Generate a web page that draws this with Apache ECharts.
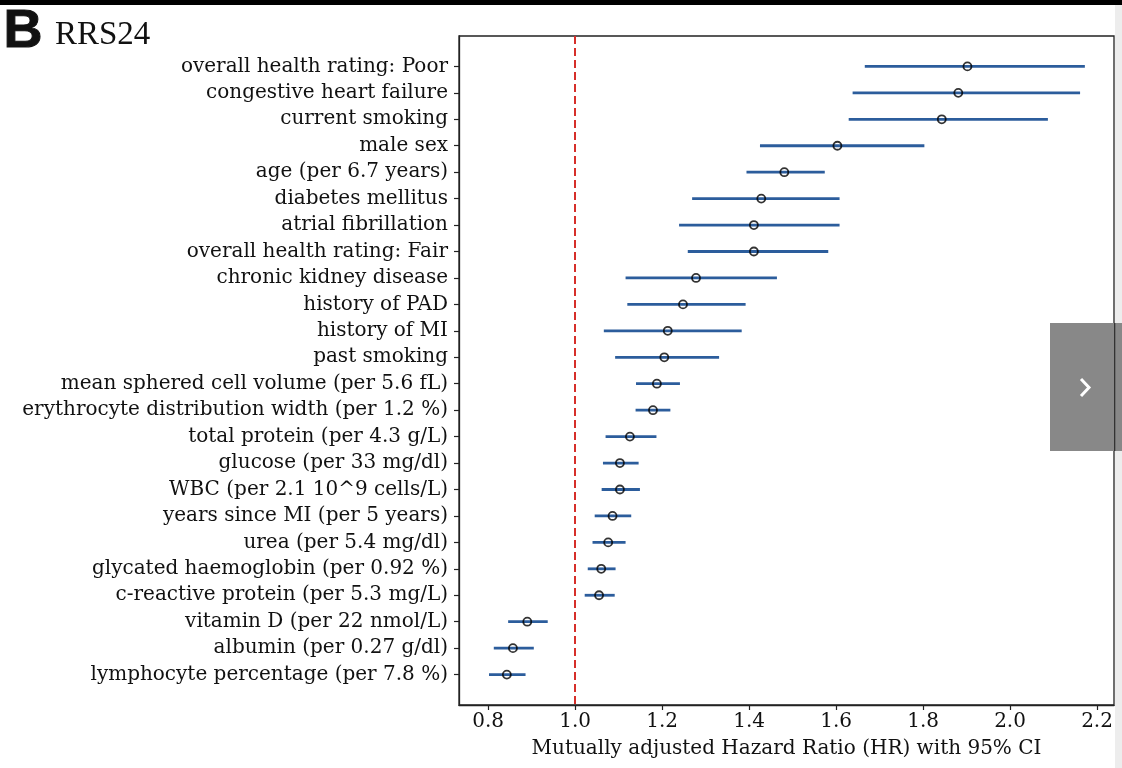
<!DOCTYPE html>
<html>
<head>
<meta charset="utf-8">
<script src="https://cdn.jsdelivr.net/npm/echarts@6/dist/echarts.min.js"></script>
<style>
html,body{margin:0;padding:0;background:#fff;}
#chart{width:1122px;height:768px;}
</style>
</head>
<body>
<div id="chart"></div>
<script>
const categories = [
  "overall health rating: Poor",
  "congestive heart failure",
  "current smoking",
  "male sex",
  "age (per 6.7 years)",
  "diabetes mellitus",
  "atrial fibrillation",
  "overall health rating: Fair",
  "chronic kidney disease",
  "history of PAD",
  "history of MI",
  "past smoking",
  "mean sphered cell volume (per 5.6 fL)",
  "erythrocyte distribution width (per 1.2 %)",
  "total protein (per 4.3 g/L)",
  "glucose (per 33 mg/dl)",
  "WBC (per 2.1 10^9 cells/L)",
  "years since MI (per 5 years)",
  "urea (per 5.4 mg/dl)",
  "glycated haemoglobin (per 0.92 %)",
  "c-reactive protein (per 5.3 mg/L)",
  "vitamin D (per 22 nmol/L)",
  "albumin (per 0.27 g/dl)",
  "lymphocyte percentage (per 7.8 %)"
];
const hr     = [1.902,1.881,1.843,1.603,1.481,1.428,1.411,1.411,1.278,1.248,1.213,1.205,1.188,1.179,1.126,1.103,1.103,1.086,1.076,1.060,1.055,0.890,0.857,0.843];
const ciLow  = [1.666,1.638,1.629,1.425,1.394,1.269,1.239,1.259,1.116,1.120,1.066,1.092,1.140,1.139,1.070,1.064,1.061,1.045,1.040,1.029,1.022,0.846,0.813,0.802];
const ciHigh = [2.172,2.161,2.087,1.803,1.574,1.608,1.608,1.582,1.464,1.392,1.383,1.331,1.241,1.219,1.187,1.146,1.149,1.129,1.116,1.093,1.091,0.937,0.905,0.886];
const xTicks = [0.8,1.0,1.2,1.4,1.6,1.8,2.0,2.2];
const refLine = 1.0;
const titleLetter = "B";
const titleText = "RRS24";
const xAxisName = "Mutually adjusted Hazard Ratio (HR) with 95% CI";

const rowIdx = categories.map((_, i) => i);
const ciData = categories.map((_, i) => [ciLow[i], ciHigh[i], i]);
const ptData = categories.map((_, i) => [hr[i], i]);

const chart = echarts.init(document.getElementById('chart'), null, {renderer:'canvas'});
const serif = 'DejaVu Serif';
chart.setOption({
  animation: false,
  backgroundColor: '#ffffff',
  grid: {left: 459, right: 8, top: 36, bottom: 63, show: true, borderColor: '#222', borderWidth: 1.3, backgroundColor: 'transparent'},
  xAxis: {
    type: 'value', min: 0.733, max: 2.239,
    name: xAxisName, nameLocation: 'middle', nameGap: 34,
    nameTextStyle: {fontFamily: serif, fontSize: 20, color: '#111'},
    axisLine: {show: true, onZero: false, lineStyle: {color: '#222', width: 1.3}},
    axisTick: {show: true, length: 5, lineStyle: {color: '#222', width: 1.2}, customValues: xTicks},
    axisLabel: {customValues: xTicks, formatter: v => v.toFixed(1), fontFamily: serif, fontSize: 20, color: '#111', margin: 7},
    splitLine: {show: false}
  },
  yAxis: {
    type: 'value', inverse: true, min: -1.15, max: 24.15,
    axisLine: {show: true, onZero: false, lineStyle: {color: '#222', width: 1.3}},
    axisTick: {show: true, length: 5, lineStyle: {color: '#222', width: 1.2}, customValues: rowIdx},
    axisLabel: {customValues: rowIdx, formatter: v => categories[Math.round(v)] || '', fontFamily: serif, fontSize: 20, color: '#111', margin: 11},
    splitLine: {show: false}
  },
  series: [
    {
      type: 'custom',
      data: ciData,
      encode: {x: [0, 1], y: 2},
      renderItem: function (params, api) {
        const a = api.coord([api.value(0), api.value(2)]);
        const b = api.coord([api.value(1), api.value(2)]);
        return {type: 'line', shape: {x1: a[0], y1: a[1], x2: b[0], y2: b[1]}, style: {stroke: '#2c5d9c', lineWidth: 2.8}};
      },
      z: 2,
      markLine: {
        silent: true, symbol: 'none', label: {show: false},
        lineStyle: {color: '#d62f2a', type: [8, 4], width: 2},
        data: [{xAxis: refLine}]
      }
    },
    {
      type: 'scatter',
      data: ptData,
      symbol: 'circle', symbolSize: 8,
      itemStyle: {color: 'rgba(0,0,0,0)', borderColor: '#000', borderWidth: 1.8},
      z: 3
    }
  ],
  graphic: [
    {type: 'rect', shape: {x: 0, y: 0, width: 1122, height: 5}, style: {fill: '#000'}, z: 10},
    {type: 'text', left: 3, top: 5, style: {text: titleLetter, font: 'bold 54px "Liberation Sans"', fill: '#111', stroke: '#111', lineWidth: 1}, z: 10},
    {type: 'text', left: 55, top: 19, style: {text: titleText, font: '33px "Liberation Serif"', fill: '#111'}, z: 10},
    {type: 'rect', shape: {x: 1115, y: 5, width: 7, height: 763}, style: {fill: '#ededed'}, z: 10},
    {type: 'rect', shape: {x: 1050, y: 323, width: 72, height: 128}, style: {fill: '#888888'}, z: 11},
    {type: 'rect', shape: {x: 1114, y: 323, width: 1.3, height: 128}, style: {fill: '#333'}, z: 12},
    {type: 'polyline', shape: {points: [[1081, 379], [1089, 387.5], [1081, 396]]}, style: {stroke: '#fff', lineWidth: 3, fill: null}, z: 12}
  ]
});
</script>
</body>
</html>
